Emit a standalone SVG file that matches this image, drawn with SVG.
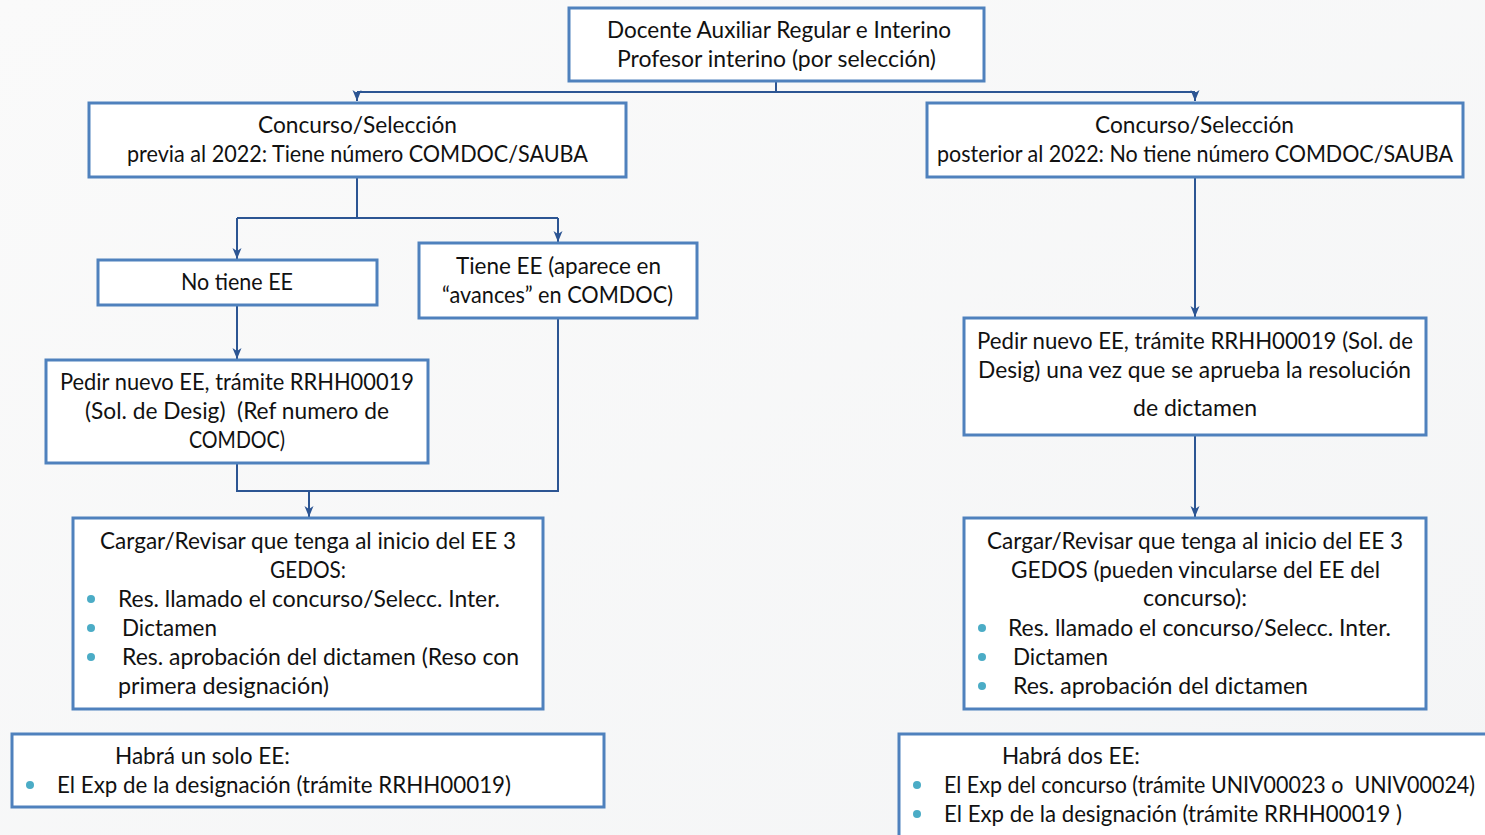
<svg xmlns="http://www.w3.org/2000/svg" width="1485" height="835" viewBox="0 0 1485 835">
<defs>
<linearGradient id="bg" x1="0" y1="0" x2="1" y2="1">
<stop offset="0" stop-color="#fafafa"/>
<stop offset="1" stop-color="#f4f5f6"/>
</linearGradient>
<marker id="arrow" viewBox="0 0 12 10" refX="11" refY="5" markerWidth="12" markerHeight="10" markerUnits="userSpaceOnUse" orient="auto">
<path d="M0,0.5 L11,5 L0,9.5 L3,5 Z" fill="#2c5593"/>
</marker>
</defs>
<style>
.box{fill:#ffffff;stroke:#4f81bd;stroke-width:3}
.t{font-family:"Lato","Noto Sans","Liberation Sans",sans-serif;font-size:22.5px;fill:#111111}
.con{fill:none;stroke:#2c5593;stroke-width:2}
.dot{fill:#4bacc6}
</style>
<rect x="0" y="0" width="1485" height="835" fill="url(#bg)"/>
<g id="connectors">
<path class="con" d="M776,81 V92 M357,92 H1195"/>
<path class="con" d="M357,92 V101" marker-end="url(#arrow)"/>
<path class="con" d="M1195,92 V101" marker-end="url(#arrow)"/>
<path class="con" d="M357,177 V218 M237,218 H558"/>
<path class="con" d="M237,218 V259" marker-end="url(#arrow)"/>
<path class="con" d="M558,218 V242" marker-end="url(#arrow)"/>
<path class="con" d="M237,305 V359" marker-end="url(#arrow)"/>
<path class="con" d="M237,463 V491 H558 V318"/>
<path class="con" d="M309,491 V517" marker-end="url(#arrow)"/>
<path class="con" d="M1195,177 V317" marker-end="url(#arrow)"/>
<path class="con" d="M1195,435 V517" marker-end="url(#arrow)"/>
</g>
<g id="n-top">
<rect class="box" x="569" y="8" width="415" height="73"/>
<text class="t" x="607" y="38" textLength="344" lengthAdjust="spacingAndGlyphs">Docente Auxiliar Regular e Interino</text>
<text class="t" x="617" y="67" textLength="319" lengthAdjust="spacingAndGlyphs">Profesor interino (por selección)</text>
</g>
<g id="n-previa">
<rect class="box" x="89" y="103" width="537" height="74"/>
<text class="t" x="258" y="133" textLength="199" lengthAdjust="spacingAndGlyphs">Concurso/Selección</text>
<text class="t" x="127" y="162" textLength="461" lengthAdjust="spacingAndGlyphs">previa al 2022: Tiene número COMDOC/SAUBA</text>
</g>
<g id="n-posterior">
<rect class="box" x="927" y="103" width="536" height="74"/>
<text class="t" x="1095" y="133" textLength="199" lengthAdjust="spacingAndGlyphs">Concurso/Selección</text>
<text class="t" x="937" y="162" textLength="516" lengthAdjust="spacingAndGlyphs">posterior al 2022: No tiene número COMDOC/SAUBA</text>
</g>
<g id="n-notiene">
<rect class="box" x="98" y="260" width="279" height="45"/>
<text class="t" x="181" y="290" textLength="112" lengthAdjust="spacingAndGlyphs">No tiene EE</text>
</g>
<g id="n-tiene">
<rect class="box" x="419" y="243" width="278" height="75"/>
<text class="t" x="456" y="274" textLength="205" lengthAdjust="spacingAndGlyphs">Tiene EE (aparece en</text>
<text class="t" x="442" y="303" textLength="231" lengthAdjust="spacingAndGlyphs">“avances” en COMDOC)</text>
</g>
<g id="n-pedir-left">
<rect class="box" x="46" y="360" width="382" height="103"/>
<text class="t" x="60" y="390" textLength="354" lengthAdjust="spacingAndGlyphs">Pedir nuevo EE, trámite RRHH00019</text>
<text class="t" x="85" y="419" textLength="304" lengthAdjust="spacingAndGlyphs" xml:space="preserve">(Sol. de Desig)  (Ref numero de</text>
<text class="t" x="189" y="448" textLength="96" lengthAdjust="spacingAndGlyphs">COMDOC)</text>
</g>
<g id="n-pedir-right">
<rect class="box" x="964" y="318" width="462" height="117"/>
<text class="t" x="977" y="349" textLength="436" lengthAdjust="spacingAndGlyphs">Pedir nuevo EE, trámite RRHH00019 (Sol. de</text>
<text class="t" x="978" y="378" textLength="433" lengthAdjust="spacingAndGlyphs">Desig) una vez que se aprueba la resolución</text>
<text class="t" x="1133" y="416" textLength="124" lengthAdjust="spacingAndGlyphs">de dictamen</text>
</g>
<g id="n-cargar-left">
<rect class="box" x="73" y="518" width="470" height="191"/>
<text class="t" x="100" y="549" textLength="416" lengthAdjust="spacingAndGlyphs">Cargar/Revisar que tenga al inicio del EE 3</text>
<text class="t" x="270" y="578" textLength="76" lengthAdjust="spacingAndGlyphs">GEDOS:</text>
<circle class="dot" cx="91" cy="599" r="4"/>
<text class="t" x="118" y="607" textLength="382" lengthAdjust="spacingAndGlyphs">Res. llamado el concurso/Selecc. Inter.</text>
<circle class="dot" cx="91" cy="628" r="4"/>
<text class="t" x="122" y="636" textLength="95" lengthAdjust="spacingAndGlyphs">Dictamen</text>
<circle class="dot" cx="91" cy="657" r="4"/>
<text class="t" x="122" y="665" textLength="397" lengthAdjust="spacingAndGlyphs">Res. aprobación del dictamen (Reso con</text>
<text class="t" x="118" y="694" textLength="211" lengthAdjust="spacingAndGlyphs">primera designación)</text>
</g>
<g id="n-cargar-right">
<rect class="box" x="964" y="518" width="462" height="191"/>
<text class="t" x="987" y="549" textLength="416" lengthAdjust="spacingAndGlyphs">Cargar/Revisar que tenga al inicio del EE 3</text>
<text class="t" x="1011" y="578" textLength="369" lengthAdjust="spacingAndGlyphs">GEDOS (pueden vincularse del EE del</text>
<text class="t" x="1143" y="606" textLength="104" lengthAdjust="spacingAndGlyphs">concurso):</text>
<circle class="dot" cx="982" cy="628" r="4"/>
<text class="t" x="1008" y="636" textLength="383" lengthAdjust="spacingAndGlyphs">Res. llamado el concurso/Selecc. Inter.</text>
<circle class="dot" cx="982" cy="657" r="4"/>
<text class="t" x="1013" y="665" textLength="95" lengthAdjust="spacingAndGlyphs">Dictamen</text>
<circle class="dot" cx="982" cy="686" r="4"/>
<text class="t" x="1013" y="694" textLength="295" lengthAdjust="spacingAndGlyphs">Res. aprobación del dictamen</text>
</g>
<g id="n-habra-uno">
<rect class="box" x="12" y="734" width="592" height="73"/>
<text class="t" x="115" y="764" textLength="175" lengthAdjust="spacingAndGlyphs">Habrá un solo EE:</text>
<circle class="dot" cx="30" cy="785" r="4"/>
<text class="t" x="57" y="793" textLength="454" lengthAdjust="spacingAndGlyphs">El Exp de la designación (trámite RRHH00019)</text>
</g>
<g id="n-habra-dos">
<rect class="box" x="899" y="734" width="592" height="110"/>
<text class="t" x="1002" y="764" textLength="138" lengthAdjust="spacingAndGlyphs">Habrá dos EE:</text>
<circle class="dot" cx="917" cy="785" r="4"/>
<text class="t" x="944" y="793" textLength="531" lengthAdjust="spacingAndGlyphs" xml:space="preserve">El Exp del concurso (trámite UNIV00023 o  UNIV00024)</text>
<circle class="dot" cx="917" cy="814" r="4"/>
<text class="t" x="944" y="822" textLength="458" lengthAdjust="spacingAndGlyphs">El Exp de la designación (trámite RRHH00019 )</text>
</g>
</svg>
